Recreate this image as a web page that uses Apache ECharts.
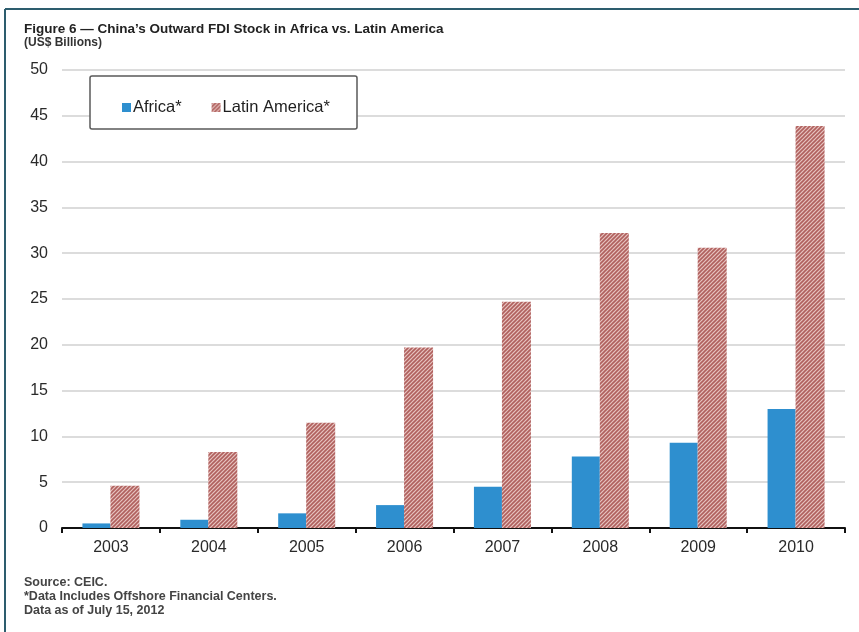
<!DOCTYPE html>
<html>
<head>
<meta charset="utf-8">
<script src="https://cdn.jsdelivr.net/npm/echarts@6/dist/echarts.min.js"></script>
<style>
  html, body { margin: 0; padding: 0; background: #ffffff; }
  #chart { width: 859px; height: 632px; }
</style>
</head>
<body>
<div id="chart"></div>
<script>
// China's outward FDI stock, US$ billions
const years = ['2003', '2004', '2005', '2006', '2007', '2008', '2009', '2010'];
const africa = [0.5, 0.9, 1.6, 2.5, 4.5, 7.8, 9.3, 13.0];
const latinAmerica = [4.6, 8.3, 11.5, 19.7, 24.7, 32.2, 30.6, 43.9];
const yTicks = [0, 5, 10, 15, 20, 25, 30, 35, 40, 45, 50];

// fine diagonal hatch used for the Latin America bars
function hatch() {
  const c = document.createElement('canvas');
  c.width = 4; c.height = 4;
  const g = c.getContext('2d');
  g.fillStyle = '#e6c3bf';
  g.fillRect(0, 0, 4, 4);
  g.strokeStyle = '#b0605e';
  g.lineWidth = 1.6;
  g.beginPath();
  g.moveTo(0, 4); g.lineTo(4, 0);
  g.moveTo(-1, 1); g.lineTo(1, -1);
  g.moveTo(3, 5); g.lineTo(5, 3);
  g.stroke();
  return c;
}
const hatchFill = { image: hatch(), repeat: 'repeat' };

const chart = echarts.init(document.getElementById('chart'), null, { renderer: 'canvas' });
const font = 'Arial, "Liberation Sans", sans-serif';

chart.setOption({
  animation: false,
  backgroundColor: '#ffffff',
  textStyle: { fontFamily: font },
  grid: { left: 62, right: 14, top: 70, bottom: 104, containLabel: false },
  legend: {
    left: 117, top: 94,
    itemWidth: 9, itemHeight: 9, itemGap: 30,
    icon: 'rect',
    textStyle: { fontSize: 16.5, color: '#1e1e1e', fontFamily: font, padding: [0, 0, 0, -3] },
    data: ['Africa*', 'Latin America*']
  },
  xAxis: {
    type: 'category',
    data: years,
    axisLine: { lineStyle: { color: '#111', width: 2 } },
    axisTick: { show: true, length: 5, lineStyle: { color: '#111', width: 2 } },
    axisLabel: { fontSize: 16, color: '#2a2a2a', margin: 12, fontFamily: font }
  },
  yAxis: {
    type: 'value',
    min: yTicks[0], max: yTicks[yTicks.length - 1], interval: 5,
    axisLine: { show: false },
    axisTick: { show: false },
    axisLabel: { fontSize: 16, color: '#2a2a2a', margin: 14, fontFamily: font },
    splitLine: { lineStyle: { color: '#dcdcdc', width: 2 } }
  },
  series: [
    {
      name: 'Africa*', type: 'bar', data: africa,
      barWidth: 28, barGap: '0%',
      itemStyle: { color: '#2e8fcf' }
    },
    {
      name: 'Latin America*', type: 'bar', data: latinAmerica,
      barWidth: 29,
      itemStyle: { color: hatchFill }
    }
  ],
  graphic: [
    // outer frame (top and left rules)
    { type: 'line', shape: { x1: 5, y1: 9, x2: 859, y2: 9 }, style: { stroke: '#2d5d6e', lineWidth: 2 } },
    { type: 'line', shape: { x1: 5, y1: 9, x2: 5, y2: 632 }, style: { stroke: '#2d5d6e', lineWidth: 2 } },
    // legend box
    { type: 'rect', shape: { x: 90, y: 76, width: 267, height: 53, r: 2 }, style: { fill: '#ffffff', stroke: '#5a5a5a', lineWidth: 1.5 }, z: 2 },
    // titles
    { type: 'text', left: 24, top: 22, style: { text: 'Figure 6 \u2014 China\u2019s Outward FDI Stock in Africa vs. Latin America', font: 'bold 13.5px ' + font, fill: '#222' } },
    { type: 'text', left: 24, top: 37, style: { text: '(US$ Billions)', font: 'bold 12px ' + font, fill: '#333' } },
    // footnotes
    { type: 'text', left: 24, top: 576, style: { text: 'Source: CEIC.', font: 'bold 12.5px ' + font, fill: '#444' } },
    { type: 'text', left: 24, top: 590, style: { text: '*Data Includes Offshore Financial Centers.', font: 'bold 12.5px ' + font, fill: '#444' } },
    { type: 'text', left: 24, top: 604, style: { text: 'Data as of July 15, 2012', font: 'bold 12.5px ' + font, fill: '#444' } }
  ]
});
</script>
</body>
</html>
